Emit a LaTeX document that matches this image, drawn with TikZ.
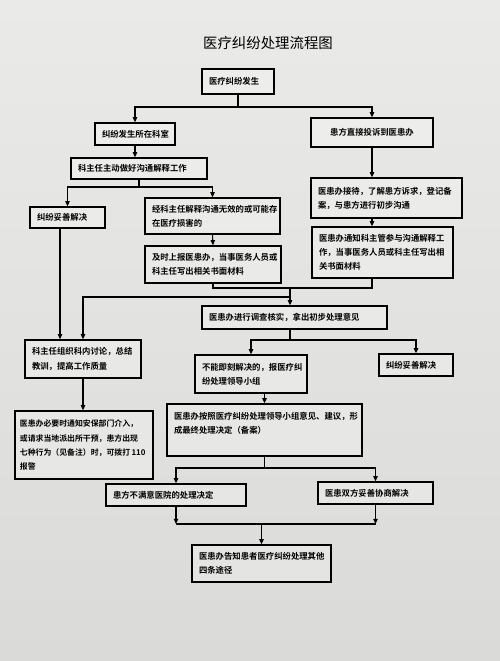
\documentclass[tikz,border=0pt]{standalone}
\usepackage{fontspec}
\setmainfont{Noto Sans CJK SC}
\newfontfamily\boxfont{Noto Sans CJK SC Bold}
\usetikzlibrary{arrows.meta}

\definecolor{papertop}{RGB}{234,234,232}
\definecolor{paperbot}{RGB}{218,218,216}

\tikzset{
  flowbox/.style={draw, line width=1.8pt, fill=white, fill opacity=0.25, text opacity=1,
    align=left, inner xsep=3.5mm, inner ysep=1mm,
    font=\boxfont\fontsize{11.9}{20}\selectfont},
  link/.style={line width=1.5pt},
  arr/.style={link, -{Triangle[length=2.6mm,width=2.2mm]}},
}

\begin{document}
\begin{tikzpicture}[x=0.5mm, y=-0.5mm]
    % paper
    \shade[top color=papertop, bottom color=paperbot] (0,0) rectangle (500,661);
    \node (title) at (268,43) {\fontsize{20.5}{24}\selectfont 医疗纠纷处理流程图};

    % first row
    \node[flowbox, text width=29mm, minimum height=12.5mm] (qishi) at (238,81.5) {医疗纠纷发生};
    \node[flowbox, text width=33mm, minimum height=11mm] (keshi) at (135,134) {纠纷发生所在科室};
    \node[flowbox, text width=54mm, minimum height=14.5mm, align=center] (tousu) at (372,132.5) {患方直接投诉到医患办};
    % department side
    \node[flowbox, text width=61mm, minimum height=10.5mm] (zhuren) at (139,168.5) {科主任主动做好沟通解释工作};
    \node[flowbox, text width=30.5mm, minimum height=10.5mm] (tuoshanA) at (67.5,217.5) {纠纷妥善解决};
    \node[flowbox, text width=60.5mm, minimum height=18mm] (wuxiao) at (212.5,216) {经科主任解释沟通无效的或可能存\\在医疗损害的};
    \node[flowbox, text width=61mm, minimum height=18.5mm] (shangbao) at (213,264.5) {及时上报医患办，当事医务人员或\\科主任写出相关书面材料};
    % complaint office side
    \node[flowbox, text width=68.5mm, minimum height=20mm] (jiedai) at (386.5,198) {医患办接待，了解患方诉求，登记备\\案，与患方进行初步沟通};
    \node[flowbox, text width=63.5mm, minimum height=25.5mm] (tongzhi) at (382.5,252.5) {医患办通知科主管参与沟通解释工\\作，当事医务人员或科主任写出相\\关书面材料};
    % investigation
    \node[flowbox, text width=85.5mm, minimum height=11.5mm] (diaocha) at (294.5,317.5) {医患办进行调查核实，拿出初步处理意见};
    \node[flowbox, text width=51mm, minimum height=19mm] (taolun) at (83,359) {科主任组织科内讨论，总结\\教训，提高工作质量};
    \node[flowbox, text width=49mm, minimum height=19mm] (buneng) at (251,374) {不能即刻解决的，报医疗纠\\纷处理领导小组};
    \node[flowbox, text width=30mm, minimum height=11mm] (tuoshanB) at (416,365) {纠纷妥善解决};
    \node[flowbox, text width=64mm, inner xsep=2.5mm, minimum height=34mm,
          font=\boxfont\fontsize{11.2}{20}\selectfont] (anbao) at (84,445) {医患办必要时通知安保部门介入，\\或请求当地派出所干预，患方出现\\\mbox{七种行为（见备注）时，可拨打\,110}\\报警};
    \node[flowbox, text width=90.5mm, minimum height=26mm] (anzhao) at (264.5,430) {医患办按照医疗纠纷处理领导小组意见、建议，形\\成最终处理决定（备案）\\~};
    % outcome
    \node[flowbox, text width=63mm, minimum height=11mm] (bumanyi) at (176,495) {患方不满意医院的处理决定};
    \node[flowbox, text width=50.5mm, minimum height=11mm] (xieshang) at (375.5,493) {医患双方妥善协商解决};
    \node[flowbox, text width=62.5mm, minimum height=18.5mm] (gaozhi) at (261.5,563.5) {医患办告知患者医疗纠纷处理其他\\四条途径};

    % junctions
    \coordinate (fenA) at (238,107);
    \coordinate (fenB) at (139,187);
    \coordinate (heA) at (290,288);
    \coordinate (fenC) at (290,297);
    \coordinate (fenD) at (290,340);
    \coordinate (fenE) at (264.5,468);
    \coordinate (heB) at (261.5,524);

    % connectors
    \draw[link] (qishi.south) -- (fenA);
    \draw[arr] (fenA) -| (keshi.north);
    \draw[arr] (fenA) -| (tousu.north);
    \draw[arr] (keshi.south) -- (keshi.south |- zhuren.north);
    \draw[link] (zhuren.south) -- (fenB);
    \draw[arr] (fenB) -| (tuoshanA.north);
    \draw[arr] (fenB) -| (wuxiao.north);
    \draw[arr] ([xshift=-3.75mm]tuoshanA.south) -- ([xshift=-3.75mm]tuoshanA.south |- taolun.north);
    \draw[arr] (wuxiao.south) -- (shangbao.north);
    \draw[arr] (tousu.south) -- (tousu.south |- jiedai.north);
    \draw[arr] (tousu.south |- jiedai.south) -- (tousu.south |- tongzhi.north);
    \draw[link] (shangbao.south) |- (heA);
    \draw[link] (tousu.south |- tongzhi.south) |- (heA);
    \draw[arr] (heA) -- (heA |- diaocha.north);
    \draw[arr] (fenC) -| (taolun.north);
    \draw[link] (heA |- diaocha.south) -- (fenD);
    \draw[arr] (fenD) -| (buneng.north);
    \draw[arr] (fenD) -| (tuoshanB.north);
    \draw[arr] (taolun.south) -- (taolun.south |- anbao.north);
    \draw[arr] (anzhao.north |- buneng.south) -- (anzhao.north);
    \draw[link] (anzhao.south) -- (fenE);
    \draw[arr] (fenE) -| (bumanyi.north);
    \draw[arr] (fenE) -| (xieshang.north);
    \draw[arr] (bumanyi.south) -- (bumanyi.south |- heB);
    \draw[arr] (xieshang.south) -- (xieshang.south |- heB);
    \draw[link] (bumanyi.south |- heB) -- (xieshang.south |- heB);
    \draw[arr] (heB) -- (gaozhi.north);
\end{tikzpicture}
\end{document}
